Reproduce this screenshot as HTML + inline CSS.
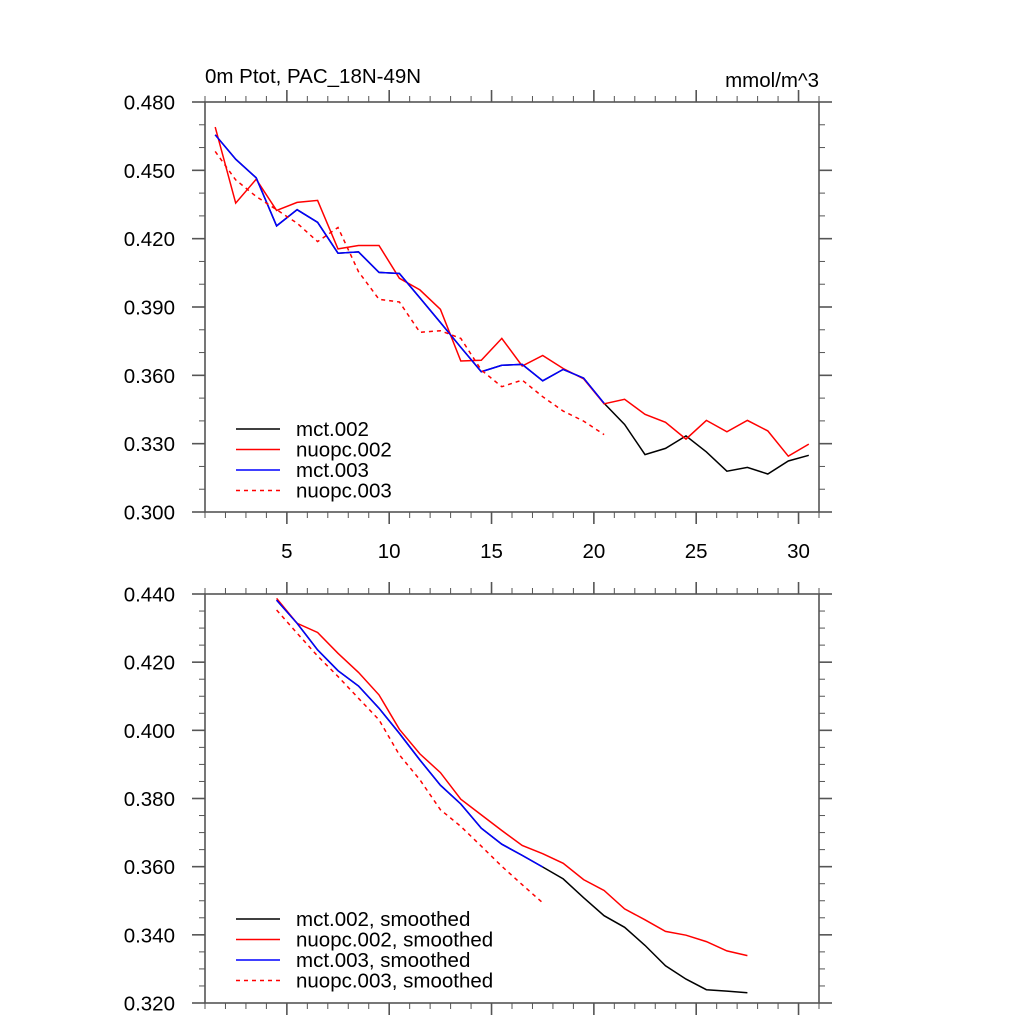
<!DOCTYPE html>
<html><head><meta charset="utf-8"><style>
html,body{margin:0;padding:0;background:#fff;}
svg{display:block;font-family:"Liberation Sans",sans-serif;}
</style></head><body>
<svg id="chart" width="1024" height="1024" viewBox="0 0 1024 1024">
<text x="205" y="83" font-size="20.5">0m Ptot, PAC_18N-49N</text>
<text x="819" y="87" font-size="20.5" text-anchor="end">mmol/m^3</text>
</svg>
<script>
const xTop = [1.5,2.5,3.5,4.5,5.5,6.5,7.5,8.5,9.5,10.5,11.5,12.5,13.5,14.5,15.5,16.5,17.5,18.5,19.5,20.5,21.5,22.5,23.5,24.5,25.5,26.5,27.5,28.5,29.5,30.5];
const mct003 = [0.4656,0.4549,0.4467,0.4256,0.4327,0.4272,0.4136,0.4142,0.4052,0.4047,0.3940,0.3832,0.3723,0.3616,0.3644,0.3648,0.3576,0.3626,0.3588,0.3477];
const mct002 = [0.4656,0.4549,0.4467,0.4256,0.4327,0.4272,0.4136,0.4142,0.4052,0.4047,0.3940,0.3832,0.3723,0.3616,0.3644,0.3648,0.3576,0.3626,0.3588,0.3477,0.3384,0.3252,0.3279,0.3334,0.3264,0.3179,0.3196,0.3167,0.3224,0.3249];
const nuopc002 = [0.4690,0.4356,0.4461,0.4324,0.4359,0.4368,0.4155,0.4170,0.4170,0.4026,0.3975,0.3890,0.3663,0.3666,0.3762,0.3641,0.3687,0.3630,0.3585,0.3475,0.3495,0.3429,0.3394,0.3320,0.3402,0.3352,0.3402,0.3356,0.3245,0.3298];
const nuopc003 = [0.4583,0.4458,0.4385,0.4327,0.4268,0.4187,0.4249,0.4055,0.3934,0.3922,0.3789,0.3796,0.3762,0.3623,0.3550,0.3579,0.3506,0.3443,0.3399,0.3340];
const xBot = [4.5,5.5,6.5,7.5,8.5,9.5,10.5,11.5,12.5,13.5,14.5,15.5,16.5,17.5,18.5,19.5,20.5,21.5,22.5,23.5,24.5,25.5,26.5,27.5];
const mct003s = [0.4382,0.4314,0.4236,0.4175,0.4130,0.4065,0.3991,0.3913,0.3839,0.3784,0.3713,0.3666,0.3633,0.3599];
const mct002s = [0.4382,0.4314,0.4236,0.4175,0.4130,0.4065,0.3991,0.3913,0.3839,0.3784,0.3713,0.3666,0.3633,0.3599,0.3564,0.3509,0.3456,0.3422,0.3369,0.3309,0.3270,0.3239,0.3235,0.3230];
const nuopc002s = [0.4387,0.4314,0.4287,0.4226,0.4170,0.4104,0.4003,0.3931,0.3876,0.3798,0.3752,0.3706,0.3662,0.3638,0.3610,0.3562,0.3530,0.3476,0.3444,0.3410,0.3399,0.3380,0.3353,0.3339];
const nuopc003s = [0.4353,0.4285,0.4218,0.4158,0.4094,0.4031,0.3928,0.3855,0.3767,0.3718,0.3660,0.3601,0.3547,0.3494];
const xTickLabels = ["5","10","15","20","25","30"];
const yTopTicks = ["0.300","0.330","0.360","0.390","0.420","0.450","0.480"];
const yBotTicks = ["0.320","0.340","0.360","0.380","0.400","0.420","0.440"];

const NS="http://www.w3.org/2000/svg";
const svg=document.getElementById('chart');
function mk(tag,attrs,parent){const e=document.createElementNS(NS,tag);for(const k in attrs)e.setAttribute(k,attrs[k]);(parent||svg).appendChild(e);return e;}
const L=205,R=819;
function xs(v){return L+(v-1)/30*(R-L);}

function panel(name,top,bot,ymin,ymax,majorStep,minorStep,yLabels,showX,series,legend,legY){
  const g=mk('g',{});
  
  
  const ys=v=>bot-(v-ymin)/(ymax-ymin)*(bot-top);
  const tc='#555';
  for(let v=1;v<=31;v++){
    const x=xs(v);const maj=v%5===0;const len=maj?12:6;
    const t1=mk('line',{x1:x,x2:x,y1:bot,y2:bot+len,stroke:tc,'stroke-width':maj?1.6:1},g);
    
    
    const t2=mk('line',{x1:x,x2:x,y1:top,y2:top-len,stroke:tc,'stroke-width':maj?1.6:1},g);
    
    
  }
  if(showX){
    xTickLabels.forEach(s=>{
      const t=mk('text',{x:xs(+s),y:bot+46,'font-size':20.5,'text-anchor':'middle'},g);
      t.textContent=s;
      
      
    });
  }
  const nMin=Math.round((ymax-ymin)/minorStep);
  for(let i=0;i<=nMin;i++){
    const v=ymin+i*minorStep;const y=ys(v);
    const maj=Math.abs(((v-ymin)/majorStep)-Math.round((v-ymin)/majorStep))<1e-6;
    const len=maj?13:6;
    const a=mk('line',{x1:L,x2:L-len,y1:y,y2:y,stroke:tc,'stroke-width':maj?1.6:1},g);
    
    
    const b=mk('line',{x1:R,x2:R+len,y1:y,y2:y,stroke:tc,'stroke-width':maj?1.6:1},g);
    
    
  }
  yLabels.forEach(s=>{
    const t=mk('text',{x:175,y:ys(+s)+7.5,'font-size':20.5,'text-anchor':'end'},g);
    t.textContent=s;
    
    
  });
  const fr=mk('rect',{x:L,y:top,width:R-L,height:bot-top,fill:'none',stroke:tc,'stroke-width':1.6},g);
  
  
  series.forEach(s=>{
    const pts=s.vals.map((v,i)=>xs(s.x[i]).toFixed(1)+','+ys(v).toFixed(1)).join(' ');
    const p=mk('polyline',{points:pts,fill:'none',stroke:s.color,'stroke-width':1.5,'stroke-linejoin':'miter'},g);
    if(s.dash)p.setAttribute('stroke-dasharray','4,4');
    
    
  });
  legend.forEach((s,i)=>{
    const y=legY+i*20.5;
    const ln=mk('line',{x1:236,x2:280,y1:y,y2:y,stroke:s.color,'stroke-width':1.5},g);
    if(s.dash)ln.setAttribute('stroke-dasharray','4,4');
    
    
    const t=mk('text',{x:296,y:y+7,'font-size':20.5},g);
    t.textContent=s.label;
    
    
  });
}
panel('top-panel',102,512,0.300,0.480,0.030,0.010,yTopTicks,true,[
  {name:'line-mct-002',x:xTop,vals:mct002,color:'#000'},
  {name:'line-nuopc-002',x:xTop,vals:nuopc002,color:'#f00'},
  {name:'line-mct-003',x:xTop,vals:mct003,color:'#00f'},
  {name:'line-nuopc-003',x:xTop,vals:nuopc003,color:'#f00',dash:true}
],[
  {label:'mct.002',color:'#000'},{label:'nuopc.002',color:'#f00'},{label:'mct.003',color:'#00f'},{label:'nuopc.003',color:'#f00',dash:true}
],429);
panel('bottom-panel',594,1003,0.320,0.440,0.020,0.005,yBotTicks,false,[
  {name:'line-mct-002-smoothed',x:xBot,vals:mct002s,color:'#000'},
  {name:'line-nuopc-002-smoothed',x:xBot,vals:nuopc002s,color:'#f00'},
  {name:'line-mct-003-smoothed',x:xBot,vals:mct003s,color:'#00f'},
  {name:'line-nuopc-003-smoothed',x:xBot,vals:nuopc003s,color:'#f00',dash:true}
],[
  {label:'mct.002, smoothed',color:'#000'},{label:'nuopc.002, smoothed',color:'#f00'},{label:'mct.003, smoothed',color:'#00f'},{label:'nuopc.003, smoothed',color:'#f00',dash:true}
],919);
</script>
</body></html>
